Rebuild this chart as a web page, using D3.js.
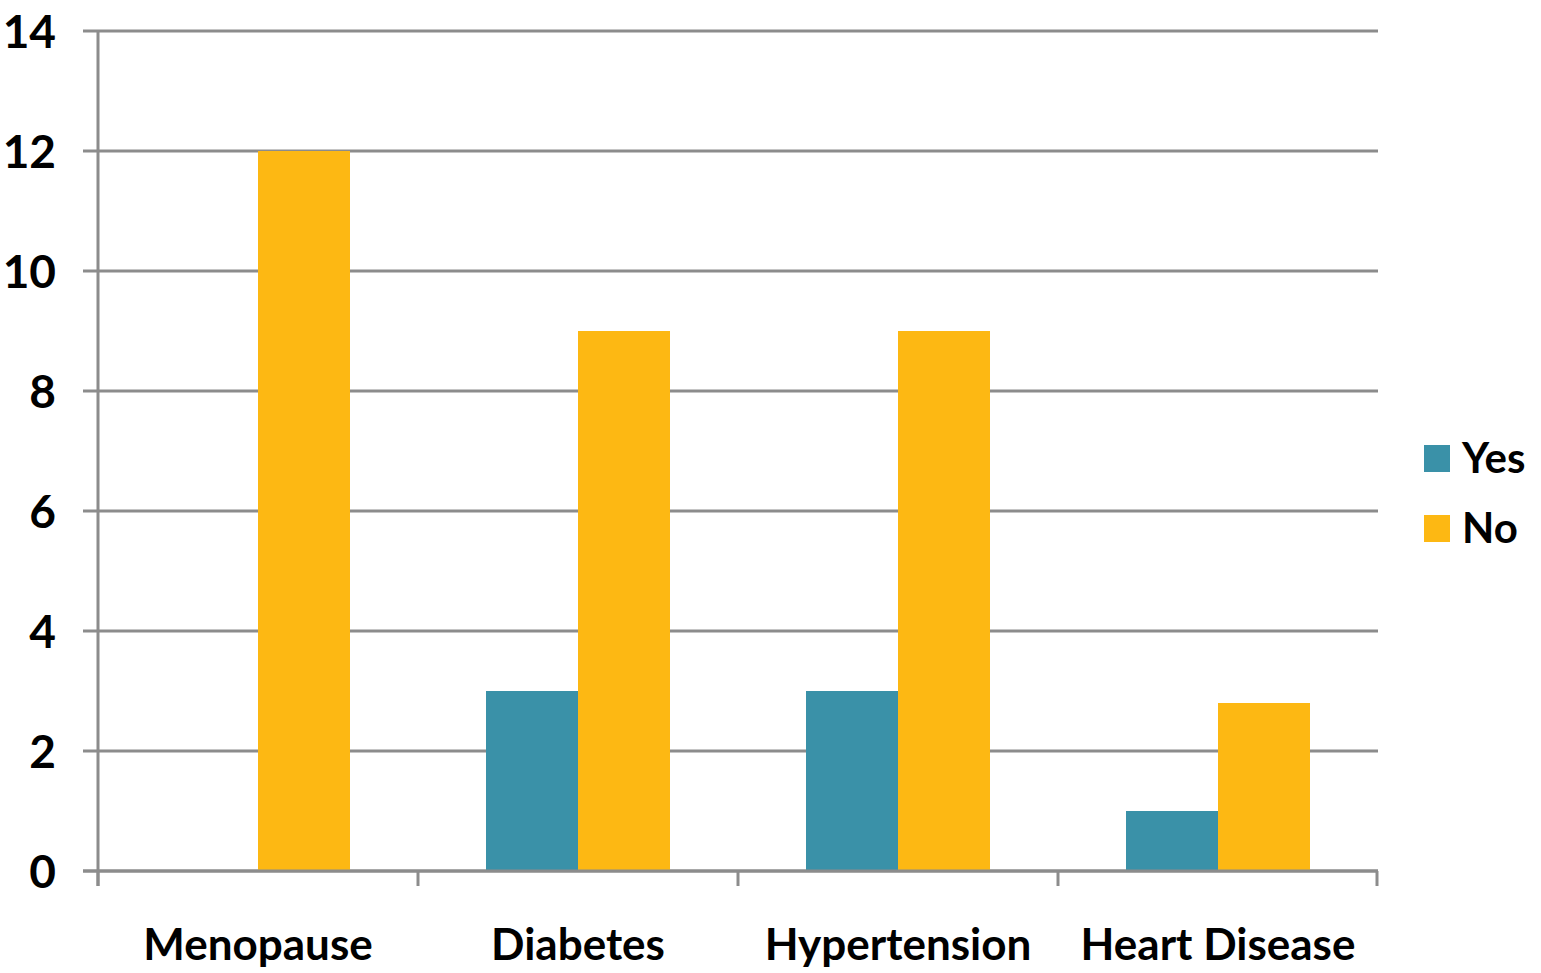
<!DOCTYPE html>
<html>
<head>
<meta charset="utf-8">
<script src="https://cdn.jsdelivr.net/npm/d3@7"></script>
<style>
  html, body { margin: 0; padding: 0; background: #fff; }
  svg text { font-family: "Lato", "Open Sans", sans-serif; font-weight: 700; fill: #000; }
</style>
</head>
<body>
<svg id="chart" width="1541" height="973"></svg>
<script>
// Conditions and counts per answer
const categories = ["Menopause", "Diabetes", "Hypertension", "Heart Disease"];
const seriesNames = ["Yes", "No"];
const yesValues = [0, 3, 3, 1];
const noValues = [12, 9, 9, 2.8];
const yTicks = [0, 2, 4, 6, 8, 10, 12, 14];
const colors = ["#3a91a8", "#fdb813"];

const svg = d3.select("#chart");
const plotLeft = 98, plotRight = 1378, plotTop = 31, plotBottom = 871;

const x = d3.scaleBand().domain(categories).range([plotLeft, plotRight]).paddingInner(0).paddingOuter(0);
const y = d3.scaleLinear().domain([0, 14]).range([plotBottom, plotTop]);
const groupWidth = x.bandwidth() * 0.575;
const xs = d3.scaleBand().domain(seriesNames).range([0, groupWidth]);

const gridColor = "#8c8c8c";

// horizontal gridlines with short left ticks
svg.append("g").selectAll("line").data(yTicks).join("line")
  .attr("x1", plotLeft - 15).attr("x2", plotRight)
  .attr("y1", d => y(d)).attr("y2", d => y(d))
  .attr("stroke", gridColor).attr("stroke-width", 3);

// bars
const rows = categories.map((c, i) => ({ c, vals: [yesValues[i], noValues[i]] }));
const groups = svg.append("g").selectAll("g").data(rows).join("g")
  .attr("transform", d => `translate(${x(d.c) + (x.bandwidth() - groupWidth) / 2},0)`);
groups.selectAll("rect").data(d => d.vals.map((v, j) => ({ v, s: seriesNames[j], j })))
  .join("rect")
  .attr("x", d => xs(d.s))
  .attr("width", xs.bandwidth())
  .attr("y", d => y(d.v))
  .attr("height", d => y(0) - y(d.v))
  .attr("fill", d => colors[d.j]);

// vertical axis line
svg.append("line").attr("x1", plotLeft).attr("x2", plotLeft).attr("y1", plotTop).attr("y2", plotBottom + 15)
  .attr("stroke", gridColor).attr("stroke-width", 3);

// baseline and category ticks
svg.append("line").attr("x1", plotLeft - 15).attr("x2", plotRight).attr("y1", y(0)).attr("y2", y(0))
  .attr("stroke", gridColor).attr("stroke-width", 3);
const bounds = categories.map(c => x(c)).concat([plotRight - 1]);
svg.append("g").selectAll("line").data(bounds).join("line")
  .attr("x1", d => d).attr("x2", d => d)
  .attr("y1", plotBottom).attr("y2", plotBottom + 15)
  .attr("stroke", gridColor).attr("stroke-width", 3);

// y tick labels
svg.append("g").selectAll("text").data(yTicks).join("text")
  .attr("x", 56).attr("y", d => y(d))
  .attr("dy", "0.36em")
  .attr("text-anchor", "end")
  .style("font-size", "46px")
  .text(d => d);

// category labels
svg.append("g").selectAll("text").data(categories).join("text")
  .attr("x", d => x(d) + x.bandwidth() / 2)
  .attr("y", 960)
  .attr("text-anchor", "middle")
  .style("font-size", "44px")
  .text(d => d);

// legend
const legend = svg.append("g").selectAll("g").data(seriesNames).join("g")
  .attr("transform", (d, i) => `translate(1424,${445 + i * 70})`);
legend.append("rect").attr("width", 26).attr("height", 27).attr("fill", (d, i) => colors[i]);
legend.append("text").attr("x", 38).attr("y", 28)
  .style("font-size", "42px").text(d => d);
</script>
</body>
</html>
